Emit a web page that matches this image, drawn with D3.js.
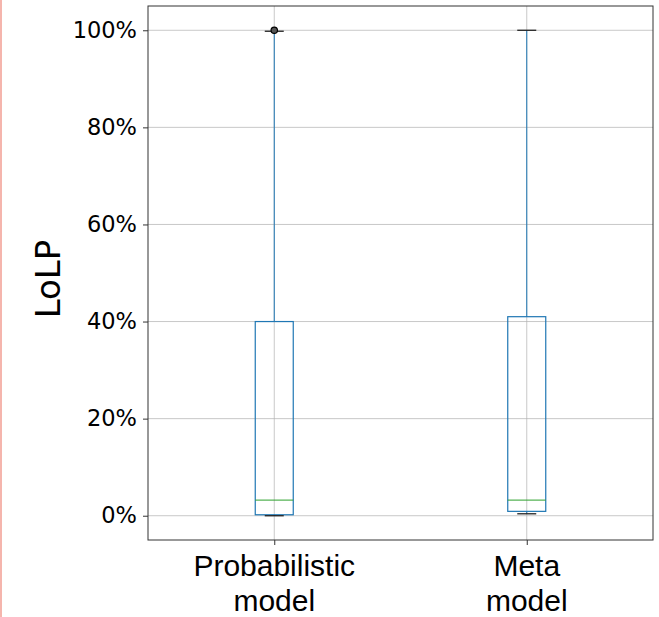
<!DOCTYPE html>
<html><head><meta charset="utf-8">
<script src="https://cdn.jsdelivr.net/npm/d3@7"></script>
<style>body{margin:0;background:#fff}</style>
</head><body>
<svg id="c" width="659" height="617"></svg>
<script>
const categories = [["Probabilistic", "model"], ["Meta", "model"]];
const whiskerLow = [0, 0.4];
const q1 = [0.2, 0.9];
const median = [3.2, 3.2];
const q3 = [40, 41];
const whiskerHigh = [99.8, 100];
const outliers = [[100], []];
const yTicks = [0, 20, 40, 60, 80, 100];

const svg = d3.select("#c");
const m = {left: 148, right: 653, top: 6, bottom: 540};
const y = d3.scaleLinear().domain([-5, 105]).range([m.bottom, m.top]);
const x = d3.scaleLinear().domain([0.5, 2.5]).range([m.left, m.right]);

svg.append("rect").attr("x", 0).attr("y", 0).attr("width", 2).attr("height", 617).attr("fill", "#f5b5ad");

// gridlines
const g = svg.append("g");
g.selectAll("line.hg").data(yTicks).join("line")
  .attr("x1", m.left).attr("x2", m.right)
  .attr("y1", d => y(d)).attr("y2", d => y(d))
  .attr("stroke", "#b0b0b0").attr("stroke-opacity", 0.7).attr("stroke-width", 1);
g.selectAll("line.vg").data(categories.map((c, i) => i + 1)).join("line")
  .attr("x1", d => x(d)).attr("x2", d => x(d))
  .attr("y1", m.top).attr("y2", m.bottom)
  .attr("stroke", "#b0b0b0").attr("stroke-opacity", 0.7).attr("stroke-width", 1);

const boxW = 38, capW = 19;
const blue = "#1f77b4";
categories.forEach((c, i) => {
  const cx = x(i + 1);
  const bg = svg.append("g");
  bg.append("line").attr("x1", cx).attr("x2", cx).attr("y1", y(q3[i])).attr("y2", y(whiskerHigh[i]))
    .attr("stroke", blue).attr("stroke-width", 1);
  bg.append("line").attr("x1", cx).attr("x2", cx).attr("y1", y(q1[i])).attr("y2", y(whiskerLow[i]))
    .attr("stroke", blue).attr("stroke-width", 1);
  bg.append("rect").attr("x", cx - boxW / 2).attr("width", boxW)
    .attr("y", y(q3[i])).attr("height", y(q1[i]) - y(q3[i]))
    .attr("fill", "none").attr("stroke", blue).attr("stroke-width", 1.2);
  bg.append("line").attr("x1", cx - boxW / 2).attr("x2", cx + boxW / 2)
    .attr("y1", y(median[i])).attr("y2", y(median[i]))
    .attr("stroke", "#2ca02c").attr("stroke-width", 1.2).attr("stroke-opacity", 0.8);
  [whiskerLow[i], whiskerHigh[i]].forEach(v => {
    bg.append("line").attr("x1", cx - capW / 2).attr("x2", cx + capW / 2)
      .attr("y1", y(v)).attr("y2", y(v)).attr("stroke", "#222").attr("stroke-width", 1.3);
  });
  outliers[i].forEach(v => {
    bg.append("circle").attr("cx", cx).attr("cy", y(v)).attr("r", 3.2)
      .attr("fill", "#555").attr("stroke", "#000").attr("stroke-width", 1.2);
  });
});

// axes
const yAxis = d3.axisLeft(y).tickValues(yTicks).tickFormat(d => d + "%").tickSize(5).tickPadding(6);
const ya = svg.append("g").attr("transform", `translate(${m.left},0)`).call(yAxis);
ya.select(".domain").remove();
ya.selectAll("text").attr("font-family", "DejaVu Sans").attr("font-size", 22.5).attr("fill", "#000");
ya.selectAll("line").attr("stroke", "#333");

const xAxis = d3.axisBottom(x).tickValues([1, 2]).tickFormat("").tickSize(5);
const xa = svg.append("g").attr("transform", `translate(0,${m.bottom})`).call(xAxis);
xa.select(".domain").remove();
xa.selectAll("line").attr("stroke", "#333");

categories.forEach((c, i) => {
  const t = svg.append("text").attr("text-anchor", "middle")
    .attr("font-family", "Liberation Sans, Arial, sans-serif").attr("font-size", 30).attr("fill", "#000");
  c.forEach((line, j) => {
    t.append("tspan").attr("x", x(i + 1)).attr("y", 576 + j * 35).text(line);
  });
});

// frame
svg.append("rect").attr("x", m.left).attr("y", m.top).attr("width", m.right - m.left).attr("height", m.bottom - m.top)
  .attr("fill", "none").attr("stroke", "#333").attr("stroke-width", 1);

svg.append("text").attr("transform", `translate(60,279) rotate(-90)`).attr("text-anchor", "middle")
  .attr("font-family", "DejaVu Sans").attr("font-size", 34).attr("fill", "#000").text("LoLP");
</script>
</body></html>
